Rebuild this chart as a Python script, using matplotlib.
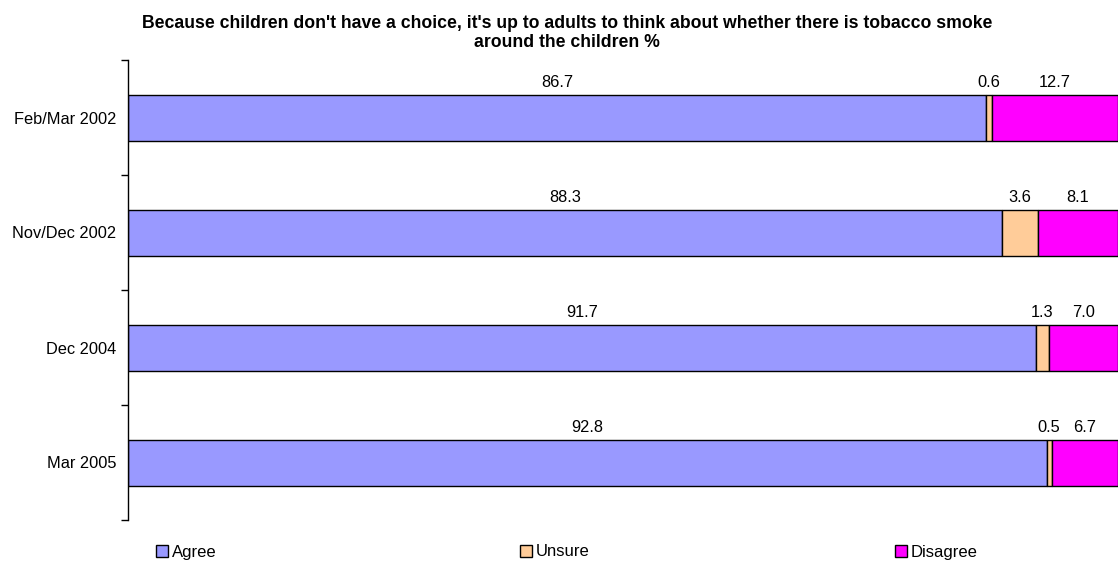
import matplotlib
matplotlib.use("Agg")
import matplotlib.pyplot as plt
import numpy as np

plt.rcParams['font.family'] = ['Liberation Sans', 'DejaVu Sans']

##### DATA #####
periods = ["Feb/Mar 2002", "Nov/Dec 2002", "Dec 2004", "Mar 2005"]
agree = [86.7, 88.3, 91.7, 92.8]
unsure = [0.6, 3.6, 1.3, 0.5]
disagree = [12.7, 8.1, 7.0, 6.7]
series_names = ["Agree", "Unsure", "Disagree"]
colors = ["#9999FF", "#FFCC99", "#FF00FF"]
title = ("Because children don't have a choice, it's up to adults to think about whether there is tobacco smoke\n"
         "around the children %")
################

fig = plt.figure(figsize=(11.18, 5.63), dpi=100)
ax = fig.add_axes([128 / 1118, 1 - 520 / 563, 1 - 128 / 1118, 460 / 563])

y = np.arange(len(periods))
left = np.zeros(len(periods))
for name, vals, col in zip(series_names, [agree, unsure, disagree], colors):
    vals = np.array(vals)
    ax.barh(y, vals, left=left, height=0.4, color=col, edgecolor="black",
            linewidth=1.0, label=name)
    # value label centred above each segment
    for yi, l, v in zip(y, left, vals):
        ax.text(l + v / 2, yi - 0.265, "%.1f" % v, ha="center", va="baseline", fontsize=11.8)
    left = left + vals

ax.set_xlim(0, 100)
ax.set_ylim(len(periods) - 0.5, -0.5)
ax.set_yticks(y)
ax.set_yticklabels(periods, fontsize=11.8)
ax.tick_params(axis="y", which="major", length=0, pad=8.5)
ax.set_yticks(np.arange(-0.5, len(periods)), minor=True)
ax.tick_params(axis="y", which="minor", length=5, width=1)
ax.set_xticks([])
for s in ["top", "right", "bottom"]:
    ax.spines[s].set_visible(False)
ax.spines["left"].set_linewidth(1.0)

fig.text(0.507, 1 - 33 / 563, title, ha="center", va="center", fontsize=12.7,
         fontweight="bold", linespacing=1.2)

handles, labels = ax.get_legend_handles_labels()
xs = [158, 522, 897]
for h, lab, x in zip(handles, labels, xs):
    fig.legend([h], [lab], loc="center left", bbox_to_anchor=(x / 1118 - 0.002, 1 - 552 / 563),
               frameon=False, fontsize=12, handlelength=0.75, handleheight=0.75,
               handletextpad=0.2, borderpad=0, borderaxespad=0)

fig.savefig("out.png", dpi=100)
